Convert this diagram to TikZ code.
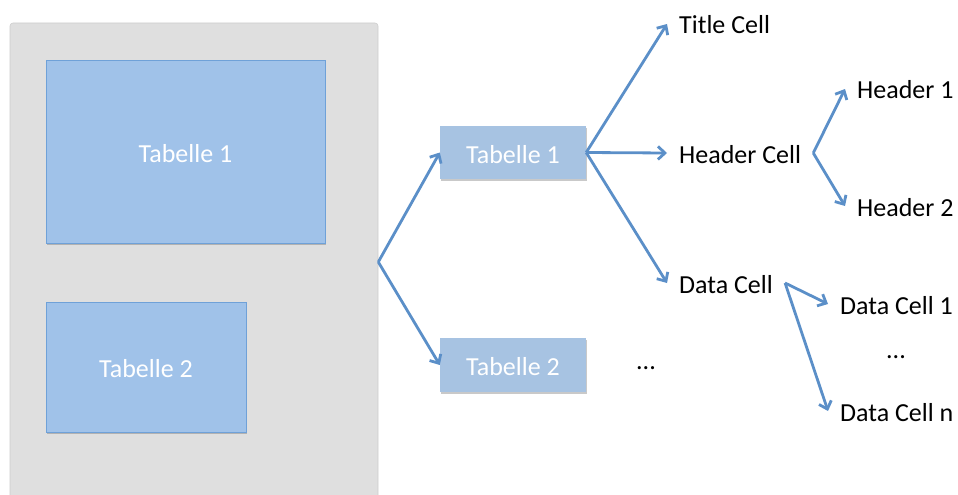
\documentclass[tikz,border=0pt]{standalone}
\usepackage{fontspec}
\setmainfont{Carlito}
\usetikzlibrary{arrows.meta,shadows}

\definecolor{panelgray}{HTML}{DFDFDF}
\definecolor{bigfill}{HTML}{A0C2E9}
\definecolor{bigline}{HTML}{6FA1D8}
\definecolor{smallfill}{HTML}{A7C3E2}
\definecolor{linkblue}{HTML}{5B8FC8}

\tikzset{
  panel/.style={fill=panelgray, draw=panelgray!92!black, line width=0.6pt,
    rounded corners=3pt, minimum width=368pt, minimum height=478pt, inner sep=0pt},
  boxshadow/.style={drop shadow={shadow xshift=1.2pt, shadow yshift=-2pt,
    opacity=0.3, fill=black!70}},
  boxtext/.style={text=white, inner sep=0pt, text height=21pt, text depth=0pt},
  bigbox/.style={fill=bigfill, draw=bigline, line width=1pt, boxtext, boxshadow},
  smallbox/.style={fill=smallfill, boxtext, minimum width=146pt, boxshadow},
  leaf/.style={anchor=west, inner xsep=12pt, inner ysep=0pt,
    text height=20pt, text depth=0pt},
  link/.style={draw=linkblue, line width=2.8pt, line join=round,
    -{Straight Barb[length=7pt,width=13pt,line width=2.8pt]}},
}

\begin{document}
\begin{tikzpicture}[x=1pt, y=-1pt, font=\fontsize{26}{30}\selectfont]
\useasboundingbox (0,0) rectangle (958,495);

% grey container with the two large tables
\node[panel] (panel) at (194,262) {};
\node[bigbox, minimum width=279pt, minimum height=182pt] (big1) at (185.5,152) {Tabelle 1};
\node[bigbox, minimum width=200pt, minimum height=130pt] (big2) at (146,367) {Tabelle 2};

% table nodes
\node[smallbox, minimum height=53pt] (t1s) at (513,152.5) {Tabelle 1};
\node[smallbox, minimum height=54pt] (t2s) at (513,365) {Tabelle 2};
\node[anchor=base] (dotsA) at (646,369) {...};

% cells of table 1
\node[leaf] (title) at (667,24) {Title Cell};
\node[leaf] (hcell) at (667,153) {Header Cell};
\node[leaf] (dcell) at (667,283) {Data Cell};

% header entries
\node[leaf] (h1) at (845,89) {Header 1};
\node[leaf] (h2) at (845,206) {Header 2};

% data entries
\node[leaf] (dc1) at (828,304) {Data Cell 1};
\node[anchor=base] (dotsB) at (896,358) {...};
\node[leaf] (dcn) at (828,411) {Data Cell n};

% connectors
\draw[link] (panel.east) -- (t1s.west);
\draw[link] (panel.east) -- (t2s.west);
\draw[link] (t1s.east) -- (title.west);
\draw[link] (t1s.east) -- (hcell.west);
\draw[link] (t1s.east) -- (dcell.west);
\draw[link] (hcell.east) -- (h1.west);
\draw[link] (hcell.east) -- (h2.west);
\draw[link] (dcell.east) -- (dc1.west);
\draw[link] (dcell.east) -- (dcn.west);
\end{tikzpicture}
\end{document}
